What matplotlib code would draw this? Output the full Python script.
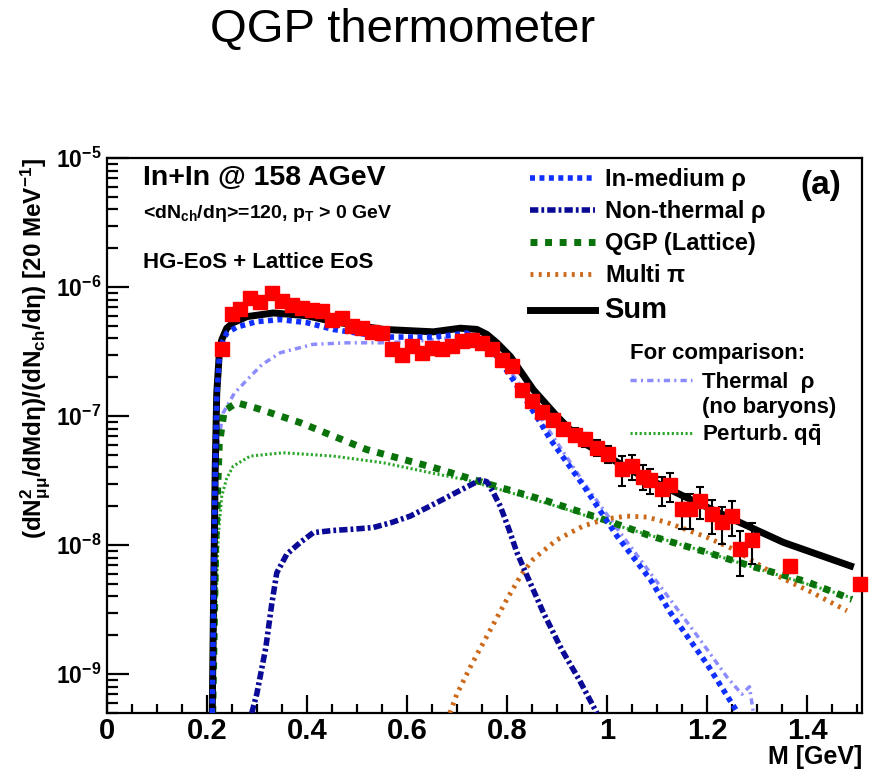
import numpy as np
import matplotlib
matplotlib.use('Agg')
import matplotlib.pyplot as plt
from matplotlib.lines import Line2D
from matplotlib.ticker import LogLocator, FuncFormatter, MultipleLocator, NullFormatter, FixedLocator

plt.rcParams['font.family'] = ['Liberation Sans', 'DejaVu Sans']
plt.rcParams['font.weight'] = 'bold'
plt.rcParams['axes.labelweight'] = 'bold'
plt.rcParams['mathtext.fontset'] = 'custom'
for k in ('rm', 'it', 'bf', 'sf'):
    plt.rcParams['mathtext.' + k] = 'Liberation Sans:bold'

# NA60 In+In dimuon excess, M in GeV
m_data = [0.230, 0.250, 0.267, 0.287, 0.307, 0.330, 0.350, 0.370, 0.390, 0.410,
          0.430, 0.450, 0.470, 0.490, 0.510, 0.530, 0.550, 0.570, 0.590, 0.610,
          0.630, 0.650, 0.670, 0.690, 0.710, 0.730, 0.750, 0.770, 0.790, 0.810,
          0.830, 0.850, 0.870, 0.893, 0.913, 0.937, 0.957, 0.980, 1.003, 1.030,
          1.050, 1.073, 1.087, 1.110, 1.127, 1.150, 1.167, 1.187, 1.210, 1.230,
          1.250, 1.267, 1.290, 1.367, 1.507]
y_data = [3.3e-7, 6.2e-7, 6.8e-7, 8.2e-7, 7.6e-7, 9.0e-7, 7.8e-7, 7.3e-7, 6.9e-7, 6.7e-7,
          6.5e-7, 5.6e-7, 5.8e-7, 5.0e-7, 4.8e-7, 4.5e-7, 4.4e-7, 3.3e-7, 3.0e-7, 3.5e-7,
          3.1e-7, 3.4e-7, 3.3e-7, 3.5e-7, 3.8e-7, 3.9e-7, 3.7e-7, 3.3e-7, 2.7e-7, 2.45e-7,
          1.6e-7, 1.3e-7, 1.08e-7, 9.4e-8, 7.9e-8, 7.2e-8, 6.6e-8, 5.7e-8, 5.1e-8, 3.9e-8,
          4.1e-8, 3.4e-8, 3.2e-8, 2.7e-8, 2.9e-8, 1.9e-8, 1.9e-8, 2.2e-8, 1.73e-8, 1.5e-8,
          1.68e-8, 9.3e-9, 1.1e-8, 6.9e-9, 5.0e-9]
# relative errors
err_rel = [0.08, 0.06, 0.06, 0.06, 0.06, 0.06, 0.06, 0.06, 0.06, 0.06,
           0.06, 0.06, 0.06, 0.06, 0.06, 0.06, 0.06, 0.06, 0.06, 0.06,
           0.06, 0.06, 0.06, 0.06, 0.06, 0.06, 0.06, 0.06, 0.07, 0.07,
           0.08, 0.08, 0.08, 0.10, 0.10, 0.12, 0.12, 0.14, 0.15, 0.26,
           0.22, 0.22, 0.22, 0.25, 0.25, 0.30, 0.30, 0.28, 0.30, 0.32,
           0.30, 0.38, 0.35, 0.12, 0.12]

m_sum = [0.211, 0.214, 0.217, 0.220, 0.225, 0.230, 0.240, 0.253, 0.280, 0.333, 0.400,
         0.453, 0.553, 0.653, 0.707, 0.740, 0.760, 0.780, 0.807, 0.853, 0.900, 0.953,
         1.060, 1.153, 1.253, 1.353, 1.487]
y_sum = [5e-10, 5e-9, 4e-8, 1.5e-7, 3.0e-7, 3.9e-7, 4.8e-7, 5.3e-7, 5.9e-7, 6.3e-7, 6.0e-7,
         5.4e-7, 4.7e-7, 4.5e-7, 4.8e-7, 4.7e-7, 4.3e-7, 3.7e-7, 2.9e-7, 1.6e-7, 1.0e-7, 6.2e-8,
         3.6e-8, 2.4e-8, 1.58e-8, 1.05e-8, 6.9e-9]

m_inmed = [0.211, 0.214, 0.217, 0.220, 0.225, 0.232, 0.240, 0.260, 0.300, 0.347, 0.400,
           0.453, 0.553, 0.653, 0.700, 0.720, 0.753, 0.780, 0.813, 0.867, 0.887, 0.953,
           1.020, 1.087, 1.127, 1.200, 1.262]
y_inmed = [5e-10, 5e-9, 4e-8, 1.4e-7, 2.8e-7, 3.8e-7, 4.4e-7, 4.9e-7, 5.4e-7, 5.6e-7, 5.3e-7,
           4.7e-7, 4.1e-7, 4.1e-7, 4.3e-7, 4.4e-7, 3.8e-7, 2.9e-7, 1.9e-7, 8.9e-8, 6.6e-8, 2.9e-8,
           1.18e-8, 5.4e-9, 3.0e-9, 1.2e-9, 5e-10]

m_nonth = [0.290, 0.300, 0.318, 0.330, 0.340, 0.360, 0.387, 0.413, 0.453, 0.493, 0.533,
           0.570, 0.607, 0.640, 0.673, 0.710, 0.747, 0.760, 0.773, 0.787, 0.805, 0.820,
           0.842, 0.873, 0.909, 0.945, 0.980]
y_nonth = [5e-10, 7e-10, 1.6e-9, 3.5e-9, 6.1e-9, 8.5e-9, 1.05e-8, 1.25e-8, 1.3e-8, 1.33e-8, 1.37e-8,
           1.5e-8, 1.68e-8, 1.95e-8, 2.27e-8, 2.7e-8, 3.2e-8, 3.1e-8, 2.55e-8, 2.0e-8, 1.3e-8, 8.8e-9,
           5.6e-9, 3.0e-9, 1.57e-9, 9e-10, 5e-10]

m_latt = [0.212, 0.218, 0.225, 0.235, 0.260, 0.300, 0.387, 0.520, 0.653, 0.760, 0.880,
          1.000, 1.087, 1.200, 1.287, 1.400, 1.490]
y_latt = [5e-10, 1e-8, 6e-8, 1.1e-7, 1.27e-7, 1.15e-7, 8.9e-8, 5.5e-8, 4.0e-8, 3.0e-8, 2.2e-8,
          1.55e-8, 1.18e-8, 8.8e-9, 6.9e-9, 5.2e-9, 3.8e-9]

m_multipi = [0.686, 0.700, 0.730, 0.764, 0.800, 0.830, 0.853, 0.900, 0.953, 1.000, 1.040,
             1.080, 1.120, 1.200, 1.253, 1.340, 1.410, 1.480]
y_multipi = [5e-10, 7e-10, 1.2e-9, 2.1e-9, 3.8e-9, 6.0e-9, 7.8e-9, 1.1e-8, 1.41e-8, 1.6e-8, 1.68e-8,
             1.65e-8, 1.5e-8, 1.15e-8, 9.3e-9, 5.8e-9, 4.3e-9, 3.1e-9]

m_thermal = [0.210, 0.215, 0.222, 0.233, 0.255, 0.280, 0.310, 0.347, 0.413, 0.480, 0.547,
             0.620, 0.700, 0.740, 0.780, 0.820, 0.880, 0.950, 1.020, 1.100, 1.180, 1.240,
             1.270, 1.285, 1.293]
y_thermal = [5e-10, 1e-8, 6e-8, 1.06e-7, 1.5e-7, 1.9e-7, 2.5e-7, 3.1e-7, 3.6e-7, 3.7e-7, 3.7e-7,
             3.8e-7, 4.1e-7, 4.0e-7, 3.0e-7, 1.9e-7, 8.2e-8, 3.2e-8, 1.35e-8, 5.2e-9, 2.0e-9, 9.5e-10,
             7.0e-10, 8.0e-10, 5e-10]

m_pert = [0.213, 0.218, 0.223, 0.230, 0.240, 0.253, 0.287, 0.353, 0.453, 0.553, 0.653,
          0.720, 0.800, 0.900, 1.000, 1.100, 1.200, 1.300, 1.400, 1.490]
y_pert = [5e-10, 3e-9, 1.2e-8, 2.4e-8, 3.3e-8, 4.1e-8, 4.9e-8, 5.2e-8, 4.9e-8, 4.35e-8, 3.6e-8,
          3.2e-8, 2.6e-8, 2.0e-8, 1.5e-8, 1.15e-8, 8.8e-9, 6.6e-9, 5.0e-9, 3.9e-9]

y_decades = [1e-9, 1e-8, 1e-7, 1e-6, 1e-5]

# line styles
st_inmed = dict(color='#1030ff', lw=4, ls=(0, (0.9, 0.8)))
st_nonth = dict(color='#0a0a96', lw=4, ls=(0, (1.5, 0.55, 0.5, 0.55)))
st_latt = dict(color='#0a720a', lw=5, ls=(0, (1.0, 1.1)))
st_multipi = dict(color='#cc6a1c', lw=3.5, ls=(0, (0.6, 1.1)))
st_sum = dict(color='black', lw=5, ls='-')
st_thermal = dict(color='#8c8cff', lw=2.5, ls=(0, (1.8, 1.2, 0.6, 1.2)))
st_pert = dict(color='#2aa62a', lw=2.2, ls=(0, (0.7, 0.8)))

fig = plt.figure(figsize=(8.76, 7.71), dpi=100)
ax = fig.add_axes([0.1218, 0.0752, 0.8622, 0.7198])

ax.plot(m_thermal, y_thermal, zorder=2, **st_thermal)
ax.plot(m_pert, y_pert, zorder=2, **st_pert)
ax.plot(m_multipi, y_multipi, zorder=3, **st_multipi)
ax.plot(m_latt, y_latt, zorder=3, **st_latt)
ax.plot(m_nonth, y_nonth, zorder=3, **st_nonth)
ax.plot(m_sum, y_sum, zorder=4, **st_sum)
ax.plot(m_inmed, y_inmed, zorder=5, **st_inmed)

y_data = np.array(y_data)
y_err = y_data * np.array(err_rel)
ax.errorbar(m_data, y_data, yerr=y_err, fmt='none', ecolor='black',
            elinewidth=1.5, capsize=3, capthick=1.5, zorder=6)
ax.plot(m_data, y_data, ls='none', marker='s', ms=10.5, color='#ff0000',
        mec='#ff0000', zorder=7, clip_on=False)

ax.set_yscale('log')
ax.set_xlim(0, 1.51)
ax.set_ylim(5e-10, 1e-5)

ax.xaxis.set_major_locator(MultipleLocator(0.2))
ax.xaxis.set_minor_locator(MultipleLocator(0.05))
ax.xaxis.set_major_formatter(FuncFormatter(lambda v, p: '%g' % round(v, 2)))
ax.yaxis.set_major_locator(FixedLocator(y_decades))
ax.yaxis.set_minor_locator(LogLocator(base=10, subs=np.arange(2, 10), numticks=20))
ax.yaxis.set_major_formatter(FuncFormatter(lambda v, p: r'$10^{%d}$' % round(np.log10(v))))
ax.yaxis.set_minor_formatter(NullFormatter())

ax.tick_params(axis='both', which='both', direction='in', top=False, right=False, width=1.6)
ax.tick_params(axis='x', which='major', length=13, pad=3, labelsize=21)
ax.tick_params(axis='x', which='minor', length=6.5)
ax.tick_params(axis='y', which='major', length=16, pad=4, labelsize=16.5)
ax.tick_params(axis='y', which='minor', length=8)
for s in ax.spines.values():
    s.set_linewidth(1.6)

ax.set_xlabel('M [GeV]', loc='right', fontsize=18, labelpad=0)
ax.set_ylabel(r'(dN$^{2}_{\mu\mu}$/dMd$\eta$)/(dN$_{ch}$/d$\eta$) [20 MeV$^{-1}$]',
              loc='top', fontsize=17.5, labelpad=2)

ax.text(0.048, 0.964, 'In+In @ 158 AGeV', transform=ax.transAxes, fontsize=20.5, va='center')
ax.text(0.048, 0.900, r'<dN$_{ch}$/d$\eta$>=120, p$_{T}$ > 0 GeV', transform=ax.transAxes,
        fontsize=14, va='center')
ax.text(0.048, 0.811, 'HG-EoS + Lattice EoS', transform=ax.transAxes, fontsize=16, va='center')
ax.text(0.918, 0.95, '(a)', transform=ax.transAxes, fontsize=24, va='center')

handles = [Line2D([], [], **st_inmed), Line2D([], [], **st_nonth), Line2D([], [], **st_latt),
           Line2D([], [], **st_multipi), Line2D([], [], **st_sum)]
labels = ['In-medium ρ', 'Non-thermal ρ', 'QGP (Lattice)', r'Multi $\pi$', 'Sum']
leg = ax.legend(handles, labels, loc='upper left', bbox_to_anchor=(0.56, 0.982),
                frameon=False, fontsize=17, handlelength=2.75, handletextpad=0.42,
                labelspacing=0.38, borderpad=0, borderaxespad=0)
leg.get_texts()[4].set_fontsize(21)
ax.add_artist(leg)

handles2 = [Line2D([], [], **st_thermal), Line2D([], [], lw=0), Line2D([], [], **st_pert)]
labels2 = ['Thermal  ρ', '(no baryons)', r'Perturb. $q\bar{q}$']
leg2 = ax.legend(handles2, labels2, loc='upper left', bbox_to_anchor=(0.693, 0.667),
                 frameon=False, fontsize=16, title='For comparison:', title_fontsize=16,
                 alignment='left', handlelength=2.8, handletextpad=0.45,
                 labelspacing=0.18, borderpad=0, borderaxespad=0)
leg2._legend_box.sep = 6

fig.text(0.459, 0.961, 'QGP thermometer', ha='center', va='center', fontsize=34,
         weight='normal', family='Liberation Sans')

fig.savefig('out.png', dpi=100)
